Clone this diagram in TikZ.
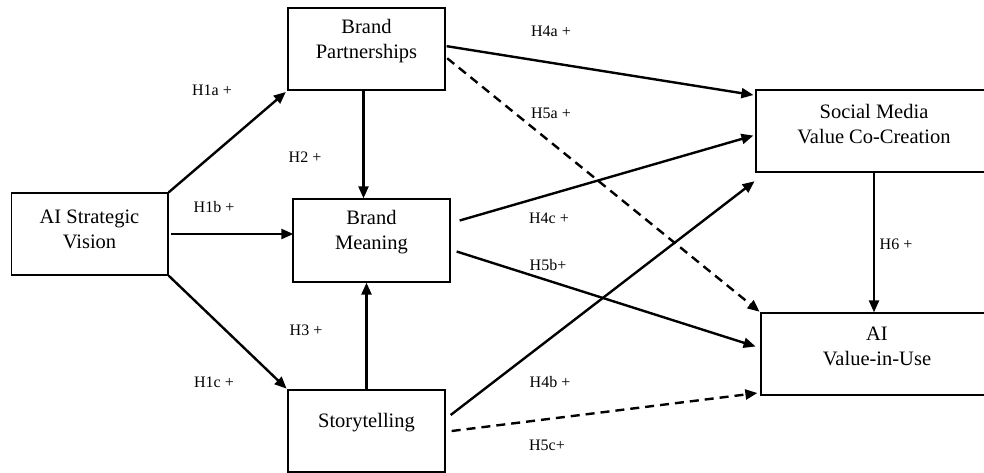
\documentclass[tikz,border=0pt]{standalone}
\usepackage{fontspec}
\setmainfont{Liberation Serif}
\usetikzlibrary{arrows.meta}
\tikzset{
  boxshape/.style={draw, line width=1.3pt, minimum width=157pt, minimum height=82pt, inner sep=0pt},
  boxtext/.style={align=center, inner sep=0pt, font=\fontsize{20.5}{25}\selectfont},
  hlabel/.style={inner sep=0pt, font=\fontsize{16}{19}\selectfont},
  conn/.style={line width=2.4pt, -{Triangle[length=12pt,width=10pt]}},
  dconn/.style={conn, dash pattern=on 9pt off 6pt}
}
\begin{document}
\begin{tikzpicture}[x=1pt,y=-1pt]
\useasboundingbox (0,0) rectangle (984,472);
\clip (0,0) rectangle (984,472);
\fill[white] (0,0) rectangle (984,472);
% boxes
\node[boxshape, minimum width=156.5pt] (av) at (89.75,234) {};
\node[boxshape] (bp) at (366.5,49) {};
\node[boxshape, minimum height=83pt] (bm) at (371.5,240.5) {};
\node[boxshape] (st) at (366.5,431) {};
\node[boxshape, minimum width=236pt] (sm) at (874,131) {};
\node[boxshape, minimum width=232pt] (aiv) at (877,354) {};
% box texts
\node[boxtext] (avt) at (89.5,229) {AI Strategic\\Vision};
\node[boxtext] (bpt) at (366.5,41) {Brand\\Partnerships};
\node[boxtext] (bmt) at (371.5,232) {Brand\\Meaning};
\node[boxtext] (stt) at (366.5,423) {Storytelling};
\node[boxtext] (smt) at (874,124) {Social Media\\Value Co-Creation};
\node[boxtext] (aivt) at (877,346) {AI\\Value-in-Use};
% connectors
\draw[conn, shorten >=2pt] (av.north east) -- (bp.south west);
\draw[conn, shorten <=2pt, shorten >=-1pt] (av.east) -- (bm.west |- av.east);
\draw[conn, shorten >=1pt] (av.south east) -- (st.north west);
\coordinate (h2s) at ([xshift=-3pt]bp.south);
\draw[conn] (h2s) -- (h2s |- bm.north);
\draw[conn] (st.north) -- (st.north |- bm.south);
\draw[conn, shorten <=1pt, shorten >=2pt] ([yshift=3pt]bp.east) -- ([yshift=-6pt]sm.north west);
\draw[dconn, shorten <=2pt, shorten >=1pt] ([yshift=-8pt]bp.east) -- (aiv.north west);
\draw[conn, shorten >=2pt] ([xshift=9pt,yshift=20pt]bm.east) -- ([yshift=-4pt]sm.west);
\draw[conn, shorten >=1pt] ([xshift=5pt,yshift=16pt]st.east) -- ([yshift=-8pt]sm.south west);
\draw[conn, shorten >=5pt] ([xshift=6pt,yshift=-11pt]bm.east) -- ([yshift=6pt]aiv.west);
\draw[dconn, shorten >=3pt] ([xshift=6pt]st.east) -- ([yshift=3pt]aiv.south west);
\draw[conn] (sm.south) -- (sm.south |- aiv.north);
% labels
\node[hlabel] (l1a) at (212,90) {H1a +};
\node[hlabel] (l2) at (305,157) {H2 +};
\node[hlabel] (l1b) at (214,207) {H1b +};
\node[hlabel] (l3) at (306,330) {H3 +};
\node[hlabel] (l1c) at (214,382) {H1c +};
\node[hlabel] (l4a) at (551,31) {H4a +};
\node[hlabel] (l5a) at (551,113) {H5a +};
\node[hlabel] (l4c) at (549,218) {H4c +};
\node[hlabel] (l6) at (896,244) {H6 +};
\node[hlabel] (l5b) at (548,265) {H5b+};
\node[hlabel] (l4b) at (550,382) {H4b +};
\node[hlabel] (l5c) at (547,445) {H5c+};
\end{tikzpicture}
\end{document}
